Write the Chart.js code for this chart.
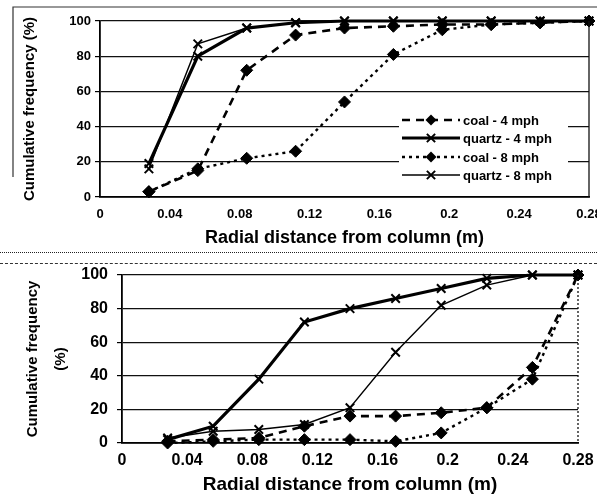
<!DOCTYPE html>
<html><head><meta charset="utf-8">
<script src="https://cdn.jsdelivr.net/npm/chart.js@4.4.1/dist/chart.umd.min.js"></script>
<style>
html,body{margin:0;padding:0;background:#fff;}
#wrap{position:relative;width:597px;height:494px;overflow:hidden;background:#fff;}
#c1{position:absolute;left:0;top:0;}
#c2{position:absolute;left:0;top:250px;}
.sep{position:absolute;left:0;width:597px;height:0;}
</style></head><body>
<div id="wrap">
<canvas id="c1" width="597" height="250"></canvas>
<canvas id="c2" width="597" height="244"></canvas>
<div class="sep" style="top:252px;border-top:1.5px dotted #222"></div>
<div class="sep" style="top:263px;border-top:1.5px dashed #333"></div>
</div>
<script>
// ---- data ----
const radialDistance = [0.028, 0.056, 0.084, 0.112, 0.14, 0.168, 0.196, 0.224, 0.252, 0.28];
const xTickValues = [0, 0.04, 0.08, 0.12, 0.16, 0.2, 0.24, 0.28];
const yTickValues = [0, 20, 40, 60, 80, 100];
const seriesNames = ['coal - 4 mph', 'quartz - 4 mph', 'coal - 8 mph', 'quartz - 8 mph'];

// top panel
const topCoal4   = [3, 15, 72, 92, 96, 97, 98, 98, 99, 100];
const topQuartz4 = [19, 80, 96, 99, 100, 100, 100, 100, 100, 100];
const topCoal8   = [3, 16, 22, 26, 54, 81, 95, 98, 99, 100];
const topQuartz8 = [16, 87, 96, 99, 100, 100, 100, 100, 100, 100];

// bottom panel
const botCoal4   = [1, 2, 3, 10, 16, 16, 18, 21, 45, 100];
const botQuartz4 = [2, 10, 38, 72, 80, 86, 92, 98, 100, 100];
const botCoal8   = [0, 1, 2, 2, 2, 1, 6, 21, 38, 100];
const botQuartz8 = [3, 7, 8, 11, 21, 54, 82, 94, 100, 100];

const xTitle = 'Radial distance from column (m)';
const yTitleTop = 'Cumulative frequency (%)';
const yTitleBottom = ['Cumulative frequency', '(%)'];

// ---- helpers ----
function pts(vals){ return radialDistance.map((x,i)=>({x:x, y:vals[i]})); }
function fmt(v){ return String(parseFloat(v.toFixed(2))); }
const FONT = '"Liberation Sans", Arial, sans-serif';

const styles = [
  {borderDash:[8,6], borderWidth:2.6, pointStyle:'rectRot', pointRadius:6},
  {borderDash:[],    borderWidth:3.2, pointStyle:'crossRot', pointRadius:6},
  {borderDash:[3,4], borderWidth:2.4, pointStyle:'rectRot', pointRadius:6},
  {borderDash:[],    borderWidth:1.4, pointStyle:'crossRot', pointRadius:6}
];

function makeDatasets(arrs){
  return arrs.map((a,i)=>({
    label: seriesNames[i],
    data: pts(a),
    showLine: true,
    borderColor:'#000',
    backgroundColor:'#000',
    pointBackgroundColor:'#000',
    pointBorderColor:'#000',
    pointBorderWidth: styles[i].pointStyle==='crossRot'?2:1,
    borderWidth: styles[i].borderWidth,
    borderDash: styles[i].borderDash,
    pointStyle: styles[i].pointStyle,
    pointRadius: styles[i].pointRadius,
    clip: false,
    tension: 0
  }));
}

function drawMarker(ctx, style, x, y, r){
  ctx.save();
  ctx.setLineDash([]);
  ctx.fillStyle='#000'; ctx.strokeStyle='#000';
  if(style==='rectRot'){
    ctx.beginPath(); ctx.moveTo(x, y-r); ctx.lineTo(x+r, y); ctx.lineTo(x, y+r); ctx.lineTo(x-r, y); ctx.closePath(); ctx.fill();
  } else {
    const d=r*0.75; ctx.lineWidth=2;
    ctx.beginPath(); ctx.moveTo(x-d,y-d); ctx.lineTo(x+d,y+d); ctx.moveTo(x+d,y-d); ctx.lineTo(x-d,y+d); ctx.stroke();
  }
  ctx.restore();
}

const legendPlugin = {
  id:'insideLegend',
  afterDatasetsDraw(chart){
    const ctx = chart.ctx;
    ctx.save();
    ctx.fillStyle='#fff';
    ctx.fillRect(399,111,169,73);
    const rows=[120,138,157,175];
    chart.data.datasets.forEach((ds,i)=>{
      const y=rows[i];
      ctx.save();
      ctx.strokeStyle='#000';
      ctx.lineWidth=ds.borderWidth;
      ctx.setLineDash(ds.borderDash||[]);
      ctx.beginPath(); ctx.moveTo(402,y); ctx.lineTo(460,y); ctx.stroke();
      ctx.restore();
      drawMarker(ctx, ds.pointStyle, 431, y, 5.5);
      ctx.fillStyle='#000';
      ctx.font='bold 13px '+FONT;
      ctx.textBaseline='middle';
      ctx.fillText(ds.label, 463, y+1);
    });
    ctx.restore();
  }
};

function framePlugin(dotted, outer){
  return {
    id:'frame',
    afterDraw(chart){
      const {ctx, chartArea:a} = chart;
      ctx.save();
      ctx.strokeStyle='#111';
      ctx.lineWidth=1.3;
      if(dotted) ctx.setLineDash([2,2]);
      ctx.beginPath(); ctx.moveTo(a.right, a.top); ctx.lineTo(a.right, a.bottom); ctx.stroke();
      ctx.restore();
      if(outer){
        ctx.save();
        ctx.strokeStyle='#333'; ctx.lineWidth=1.2;
        ctx.beginPath(); ctx.moveTo(13,177); ctx.lineTo(13,7); ctx.lineTo(597,7); ctx.stroke();
        ctx.restore();
      }
    }
  };
}

function makeOptions(cfg){
  return {
    responsive:false,
    animation:false,
    layout:{padding:{top:cfg.padTop, right:cfg.padRight, left:0, bottom:0}},
    plugins:{legend:{display:false}, tooltip:{enabled:false}},
    scales:{
      x:{
        type:'linear', min:0, max:0.28,
        afterBuildTicks(s){ s.ticks = xTickValues.map(v=>({value:v})); },
        afterFit(s){ s.height = cfg.xHeight; s.paddingLeft=0; s.paddingRight=0; },
        ticks:{ color:'#000', font:{family:FONT, size:cfg.tickSize, weight:'bold'}, padding:cfg.xTickPad, maxRotation:0, autoSkip:false, callback:(v)=>fmt(v) },
        grid:{ display:true, drawOnChartArea:false, drawTicks:false, color:'#000' },
        border:{ display:true, color:'#000', width:1.8 },
        title:{ display:true, text:xTitle, color:'#000', font:{family:FONT, size:cfg.xTitleSize, weight:'bold', lineHeight:1}, padding:{top:0, bottom:cfg.xTitlePadB} }
      },
      y:{
        type:'linear', min:0, max:100,
        afterBuildTicks(s){ s.ticks = yTickValues.map(v=>({value:v})); },
        afterFit(s){ s.width = cfg.yWidth; },
        ticks:{ color:'#000', font:{family:FONT, size:cfg.yTickSize, weight:'bold'}, padding:cfg.yTickPad },
        grid:{ color:'#111', lineWidth:1.2, tickLength:5, tickColor:'#000' },
        border:{ display:true, color:'#000', width:1.8 },
        title:{ display:true, text:cfg.yTitle, color:'#000', font:{family:FONT, size:15, weight:'bold', lineHeight:cfg.yTitleLH}, padding:{top:cfg.yTitlePadT, bottom:0} }
      }
    }
  };
}

new Chart(document.getElementById('c1'), {
  type:'scatter',
  data:{ datasets: makeDatasets([topCoal4, topQuartz4, topCoal8, topQuartz8]) },
  options: makeOptions({padTop:21, padRight:5, xHeight:53, yWidth:100, tickSize:13, yTickSize:13, xTickPad:10, yTickPad:4,
    xTitleSize:18, xTitlePadB:3, yTitle:yTitleTop, yTitleLH:1.2, yTitlePadT:21}),
  plugins:[legendPlugin, framePlugin(false, true)]
});

new Chart(document.getElementById('c2'), {
  type:'scatter',
  data:{ datasets: makeDatasets([botCoal4, botQuartz4, botCoal8, botQuartz8]) },
  options: makeOptions({padTop:25, padRight:19, xHeight:51, yWidth:122, tickSize:16, yTickSize:16, xTickPad:8, yTickPad:9,
    xTitleSize:19, xTitlePadB:0, yTitle:yTitleBottom, yTitleLH:1.867, yTitlePadT:19}),
  plugins:[framePlugin(true, false)]
});
</script>
</body></html>
